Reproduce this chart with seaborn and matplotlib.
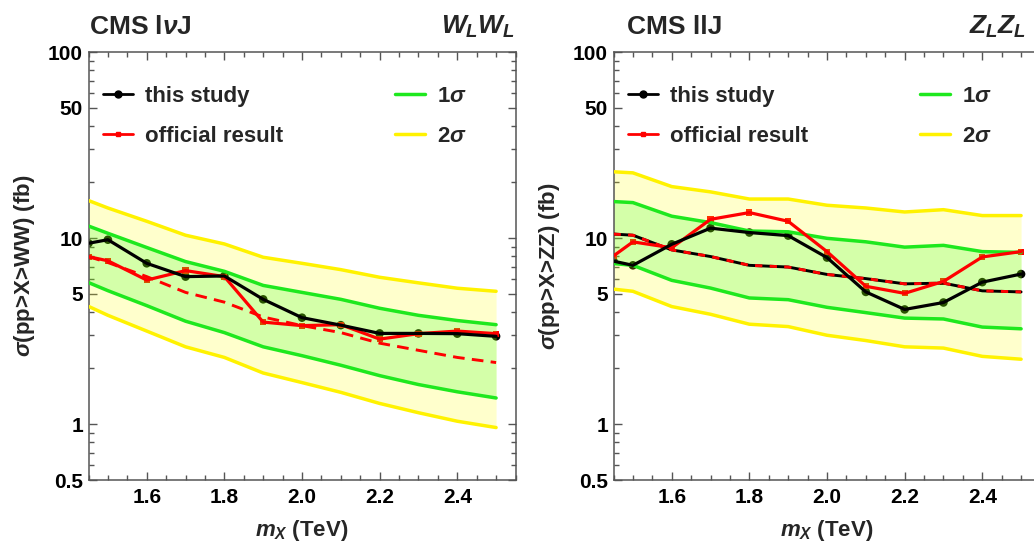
import numpy as np
import matplotlib
matplotlib.use("Agg")
import matplotlib.pyplot as plt
from matplotlib.lines import Line2D
from matplotlib.ticker import MultipleLocator, FixedLocator, FixedFormatter, LogLocator, NullFormatter
import seaborn as sns
import pandas as pd

# masses (TeV)
mx = [1.45, 1.5, 1.6, 1.7, 1.8, 1.9, 2.0, 2.1, 2.2, 2.3, 2.4, 2.5]

# CMS lvJ, W_L W_L
ww_study = [9.37, 9.79, 7.31, 6.20, 6.25, 4.68, 3.73, 3.40, 3.07, 3.07, 3.06, 2.96]
ww_official = [7.94, 7.54, 5.94, 6.68, 6.20, 3.53, 3.38, 3.42, 2.86, 3.06, 3.16, 3.06]
ww_expected = [7.94, 7.38, 6.20, 5.10, 4.52, 3.76, 3.38, 3.10, 2.72, 2.49, 2.28, 2.14]
ww_1s_hi = [11.6, 10.6, 8.89, 7.47, 6.62, 5.56, 5.10, 4.68, 4.19, 3.84, 3.60, 3.42]
ww_1s_lo = [5.76, 5.21, 4.33, 3.57, 3.10, 2.60, 2.33, 2.07, 1.82, 1.63, 1.49, 1.38]
ww_2s_hi = [15.9, 14.5, 12.3, 10.35, 9.29, 7.88, 7.31, 6.76, 6.15, 5.74, 5.37, 5.17]
ww_2s_lo = [4.29, 3.84, 3.16, 2.60, 2.28, 1.88, 1.67, 1.48, 1.29, 1.15, 1.035, 0.957]

# CMS llJ, Z_L Z_L
zz_study = [7.51, 7.13, 9.25, 11.3, 10.7, 10.3, 7.85, 5.13, 4.13, 4.50, 5.79, 6.40]
zz_official = [8.01, 9.53, 8.86, 12.6, 13.7, 12.3, 8.45, 5.50, 5.04, 5.84, 7.91, 8.45]
zz_expected = [10.5, 10.35, 8.63, 7.95, 7.13, 6.98, 6.37, 6.05, 5.67, 5.72, 5.20, 5.13]
zz_1s_hi = [15.7, 15.5, 13.1, 12.1, 10.9, 10.8, 9.96, 9.54, 8.93, 9.13, 8.45, 8.37]
zz_1s_lo = [7.29, 7.13, 5.92, 5.38, 4.76, 4.66, 4.24, 3.97, 3.71, 3.67, 3.32, 3.25]
zz_2s_hi = [22.7, 22.4, 18.9, 17.7, 16.2, 16.2, 15.0, 14.5, 13.8, 14.2, 13.2, 13.2]
zz_2s_lo = [5.31, 5.17, 4.28, 3.89, 3.44, 3.34, 3.00, 2.81, 2.60, 2.56, 2.31, 2.23]

sns.set_theme(style="ticks")
plt.rcParams["font.family"] = ["Liberation Sans", "DejaVu Sans"]
plt.rcParams["font.weight"] = "bold"
plt.rcParams["axes.labelweight"] = "bold"
plt.rcParams["mathtext.fontset"] = "custom"
plt.rcParams["mathtext.rm"] = "Liberation Sans:bold"
plt.rcParams["mathtext.bf"] = "Liberation Sans:bold"
plt.rcParams["mathtext.it"] = "Liberation Sans:italic:bold"

GREEN = "#1ee81e"
YELLOW = "#fff200"
W, H = 1034, 548

fig = plt.figure(figsize=(W / 100, H / 100), dpi=100)
axL = fig.add_axes([88.5 / W, 1 - 480 / H, 427 / W, 428 / H])
axR = fig.add_axes([613.5 / W, 1 - 480 / H, 427 / W, 428 / H])


def panel(ax, study, official, expected, s1hi, s1lo, s2hi, s2lo, ylab, two_tone, right_ticks):
    df = pd.DataFrame({"mx": mx, "study": study, "official": official,
                       "expected": expected, "s1hi": s1hi, "s1lo": s1lo,
                       "s2hi": s2hi, "s2lo": s2lo})
    # markers sit under the translucent bands
    sns.scatterplot(data=df, x="mx", y="study", ax=ax, color="black", marker="o",
                    s=38, edgecolor="none", zorder=1)
    sns.scatterplot(data=df, x="mx", y="official", ax=ax, color="red", marker="s",
                    s=20, edgecolor="none", zorder=1)
    ax.fill_between(df["mx"], df["s2lo"], df["s2hi"], color="yellow", alpha=0.2,
                    lw=0, zorder=2)
    ax.fill_between(df["mx"], df["s1lo"], df["s1hi"], color="lime", alpha=0.17,
                    lw=0, zorder=2)
    for col, c in [("s2hi", YELLOW), ("s2lo", YELLOW), ("s1hi", GREEN), ("s1lo", GREEN)]:
        sns.lineplot(data=df, x="mx", y=col, ax=ax, color=c, lw=2.5, zorder=3)
    if two_tone:
        sns.lineplot(data=df, x="mx", y="expected", ax=ax, color="black", lw=2.1, zorder=4)
    ln = sns.lineplot(data=df, x="mx", y="expected", ax=ax, color="red", lw=2.1, zorder=4)
    ln.lines[-1].set_dashes([4, 2.5] if not two_tone else [2.5, 2.5])
    sns.lineplot(data=df, x="mx", y="official", ax=ax, color="red", lw=2.3, zorder=5)
    sns.lineplot(data=df, x="mx", y="study", ax=ax, color="black", lw=2.3, zorder=5)

    ax.set_yscale("log")
    ax.set_xlim(1.45, 2.55)
    ax.set_ylim(0.5, 100)
    ax.yaxis.set_major_locator(FixedLocator([0.5, 1, 5, 10, 50, 100]))
    ax.yaxis.set_major_formatter(FixedFormatter(["0.5", "1", "5", "10", "50", "100"]))
    ax.yaxis.set_minor_locator(LogLocator(subs=np.arange(2, 10)))
    ax.yaxis.set_minor_formatter(NullFormatter())
    ax.xaxis.set_major_locator(MultipleLocator(0.2))
    ax.xaxis.set_minor_locator(MultipleLocator(0.05))
    ax.xaxis.set_major_formatter(lambda v, p: f"{v:.1f}")
    ax.tick_params(which="both", direction="in", top=True, right=right_ticks,
                   colors="#555555", labelcolor="black", labelsize=15)
    ax.tick_params(which="major", length=6, width=1)
    ax.tick_params(which="minor", length=3.5, width=1)
    ax.tick_params(axis="y", pad=4)
    ax.tick_params(axis="x", pad=6)
    for sp in ax.spines.values():
        sp.set_color("#555555")
        sp.set_linewidth(1.1)
    ax.set_xlabel(r"$m_X$ (TeV)", fontsize=16, labelpad=8)
    ax.set_ylabel(ylab, fontsize=16, labelpad=8)

    h1 = [Line2D([], [], color="black", lw=2, marker="o", ms=5),
          Line2D([], [], color="red", lw=2, marker="s", ms=3.5)]
    h2 = [Line2D([], [], color=GREEN, lw=2.5), Line2D([], [], color=YELLOW, lw=2.5)]
    kw = dict(frameon=False, fontsize=16, handlelength=1.35, handletextpad=0.55,
              labelspacing=0.85, borderpad=0, borderaxespad=0, loc="upper left")
    leg1 = ax.legend(h1, ["this study", "official result"],
                     bbox_to_anchor=(14.5 / 427, 1 - 34 / 428), **kw)
    ax.add_artist(leg1)
    ax.legend(h2, [r"1$\sigma$", r"2$\sigma$"],
              bbox_to_anchor=(306 / 427, 1 - 34 / 428), **kw)


panel(axL, ww_study, ww_official, ww_expected, ww_1s_hi, ww_1s_lo, ww_2s_hi, ww_2s_lo,
      r"$\sigma$(pp>X>WW) (fb)", False, True)
panel(axR, zz_study, zz_official, zz_expected, zz_1s_hi, zz_1s_lo, zz_2s_hi, zz_2s_lo,
      r"$\sigma$(pp>X>ZZ) (fb)", True, False)

fig.text(89 / W, 1 - 34 / H, r"CMS l$\nu$J", fontsize=19, ha="left", va="baseline")
fig.text(515 / W, 1 - 34 / H, r"$W_LW_L$", fontsize=19, ha="right", va="baseline")
fig.text(627 / W, 1 - 34 / H, "CMS llJ", fontsize=19, ha="left", va="baseline")
fig.text(1026 / W, 1 - 34 / H, r"$Z_LZ_L$", fontsize=19, ha="right", va="baseline")

fig.savefig("out.png", dpi=100)
